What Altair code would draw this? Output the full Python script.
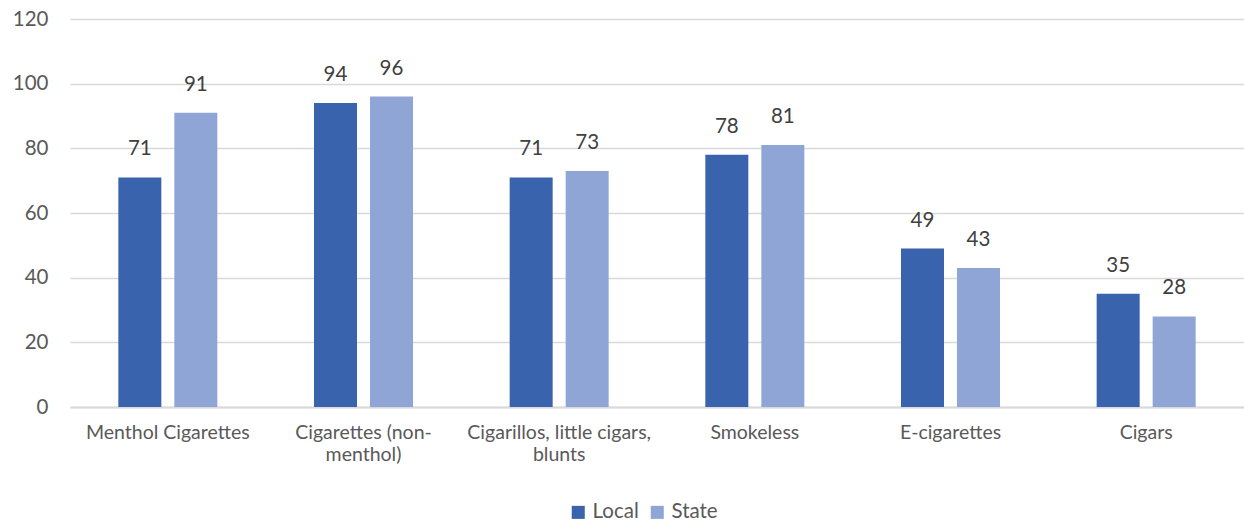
import altair as alt
import pandas as pd

categories = ["Menthol Cigarettes", "Cigarettes (non-|menthol)", "Cigarillos, little cigars,|blunts",
              "Smokeless", "E-cigarettes", "Cigars"]
local_vals = [71, 94, 71, 78, 49, 35]
state_vals = [91, 96, 73, 81, 43, 28]
series = ["Local", "State"]
colors = ["#3A63AD", "#8FA5D5"]

rows = []
for c, l, s in zip(categories, local_vals, state_vals):
    rows.append({"cat": c, "series": "Local", "value": l})
    rows.append({"cat": c, "series": "State", "value": s})
df = pd.DataFrame(rows)

FONT = "Lato"
TXT = "#595959"

base = alt.Chart(df).encode(
    x=alt.X("cat:N", sort=categories, title=None,
            scale=alt.Scale(paddingInner=0.494, paddingOuter=0.247),
            axis=alt.Axis(labelAngle=0, labelExpr="split(datum.value, '|')",
                          labelFont=FONT, labelFontSize=19.5, labelColor=TXT,
                          ticks=False, domainColor="#D9D9D9", domainWidth=2,
                          labelPadding=16, labelLimit=300, labelLineHeight=22)),
    xOffset=alt.XOffset("series:N", sort=series,
                        scale=alt.Scale(paddingInner=0.232, paddingOuter=0)),
    y=alt.Y("value:Q", title=None,
            scale=alt.Scale(domain=[0, 120], nice=False),
            axis=alt.Axis(values=[0, 20, 40, 60, 80, 100, 120], domain=False, ticks=False,
                          labelFont=FONT, labelFontSize=20.5, labelColor=TXT, labelPadding=22,
                          gridColor="#D9D9D9", gridWidth=1.5)),
)

bars = base.mark_bar().encode(
    color=alt.Color("series:N", sort=series,
                    scale=alt.Scale(domain=series, range=colors),
                    legend=alt.Legend(title=None, orient="none", direction="horizontal",
                                      legendX=498, legendY=483,
                                      labelFont=FONT, labelFontSize=20.5, labelColor=TXT,
                                      symbolType="square", symbolSize=170, symbolStrokeWidth=0,
                                      columnPadding=8, labelOffset=4))
)

labels = base.mark_text(baseline="bottom", dy=-18, font=FONT, fontSize=20.5, color="#404040").encode(
    text=alt.Text("value:Q")
)

chart = (bars + labels).properties(
    width=1174, height=388,
    background="white",
    autosize=alt.AutoSizeParams(type="none"),
    padding={"left": 70, "top": 19, "right": 0, "bottom": 114},
).configure_view(stroke=None)

chart.save("out.html", embed_options={"renderer": "svg", "actions": False})
